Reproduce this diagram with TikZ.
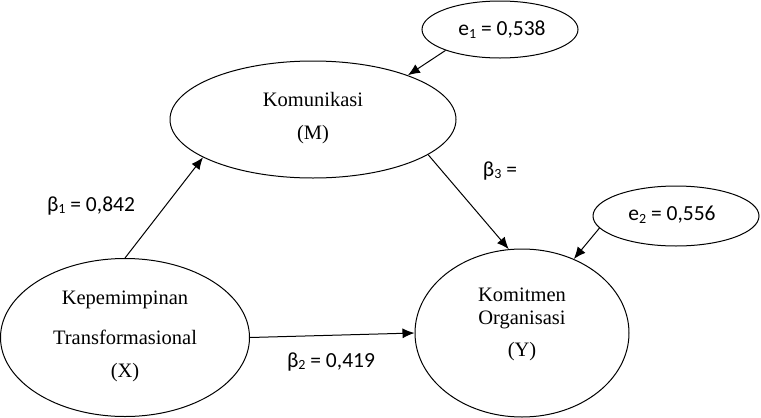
\documentclass[tikz,border=0pt]{standalone}
\usepackage{fontspec}
\setmainfont{Liberation Serif}
\newfontfamily\lblfont{Carlito}
\usetikzlibrary{shapes.geometric,arrows.meta}
\newcommand\subidx[1]{\raisebox{-0.1em}{\fontsize{14}{14}\selectfont #1}}
\begin{document}
\begin{tikzpicture}[x=1pt,y=-1pt,
  var/.style={draw,ellipse,line width=1pt,inner sep=0pt},
  vtext/.style={font=\fontsize{20.5}{20.5}\selectfont,inner sep=0pt},
  lbl/.style={font=\lblfont\fontsize{21.5}{21.5}\selectfont,inner sep=0pt},
  arr/.style={line width=1pt,-{Latex[length=12pt,width=10pt]}}]
\useasboundingbox (0,0) rectangle (761,418);
\node[var,minimum width=286pt,minimum height=117pt] (M) at (313,119.5) {};
\node[var,minimum width=249pt,minimum height=158pt] (X) at (125,337.5) {};
\node[var,minimum width=214pt,minimum height=168pt] (Y) at (522,333) {};
\node[var,minimum width=156pt,minimum height=57pt] (E1) at (500,29.5) {};
\node[var,minimum width=166pt,minimum height=60pt] (E2) at (676,216) {};
\node[vtext] (tM1) at (313,99) {Komunikasi};
\node[vtext] (tM2) at (313,135) {(M)};
\node[vtext] (tX1) at (125,300) {Kepemimpinan};
\node[vtext] (tX2) at (125,337) {Transformasional};
\node[vtext] (tX3) at (125,373) {(X)};
\node[vtext] (tY1) at (522,295) {Komitmen};
\node[vtext] (tY2) at (522,320) {Organisasi};
\node[vtext] (tY3) at (522,352) {(Y)};
\node[lbl] (l1) at (502,30) {e\subidx{1} = 0,538};
\node[lbl] (l2) at (672,215) {e\subidx{2} = 0,556};
\node[lbl] (b1) at (91,206) {β\subidx{1} = 0,842};
\node[lbl] (b2) at (331,362) {β\subidx{2} = 0,419};
\node[lbl] (b3) at (500,171) {β\subidx{3} =};
\draw[arr] (X.north) -- (M.199);
\draw[arr] (X.east) -- (Y.180);
\draw[arr] (M.343) -- (Y.99);
\draw[arr] (E1.201) -- (M.25);
\draw[arr] (E2.189) -- (Y.55);
\end{tikzpicture}
\end{document}
